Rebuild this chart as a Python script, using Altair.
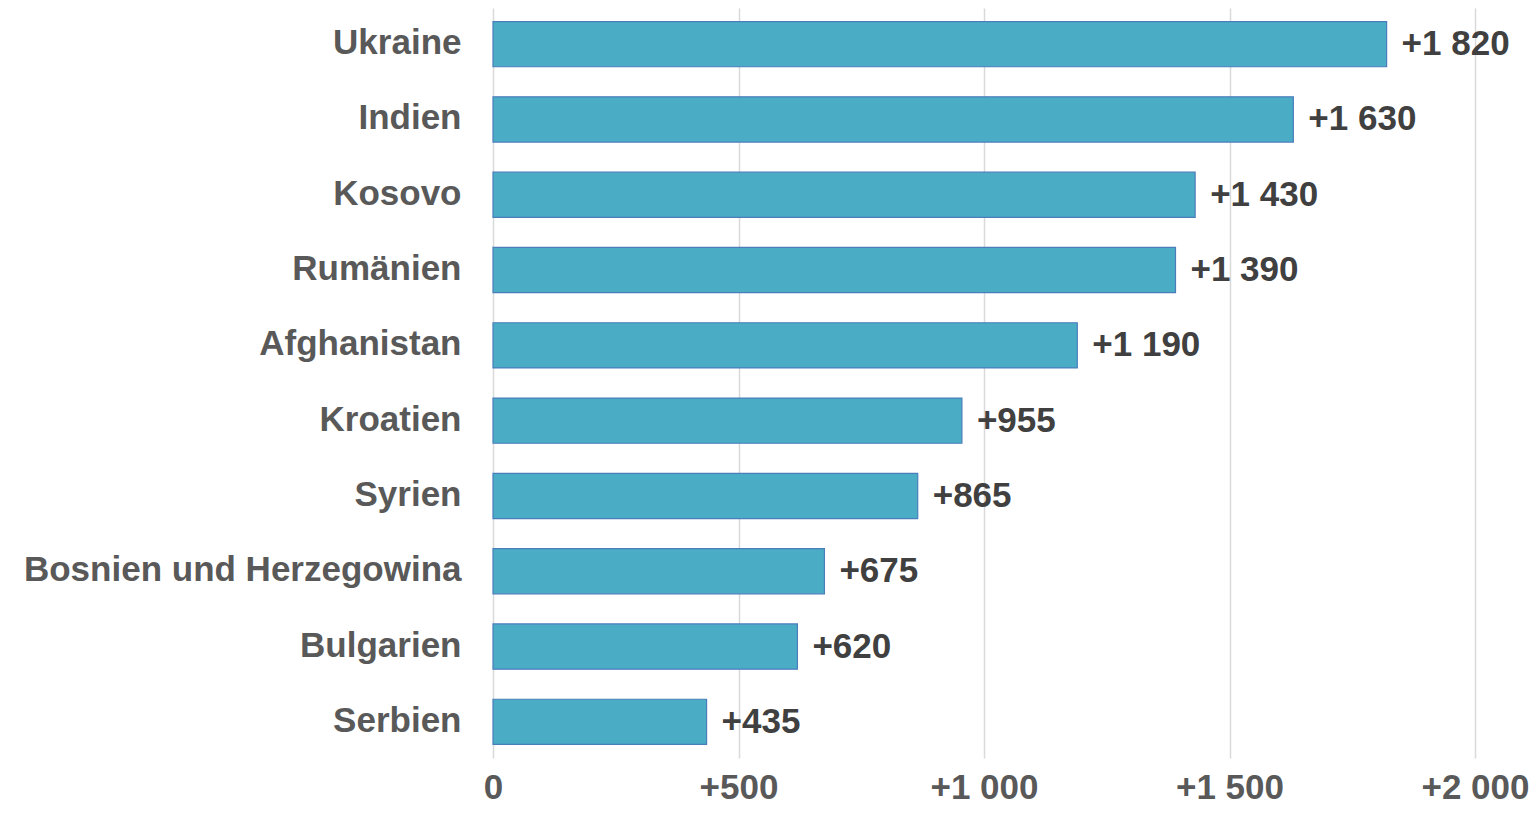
import altair as alt
import pandas as pd

countries = ["Ukraine", "Indien", "Kosovo", "Rumänien", "Afghanistan", "Kroatien",
             "Syrien", "Bosnien und Herzegowina", "Bulgarien", "Serbien"]
values = [1820, 1630, 1430, 1390, 1190, 955, 865, 675, 620, 435]
x_ticks = [0, 500, 1000, 1500, 2000]


def fmt(v):
    s = f"{v:,}".replace(",", " ")
    return "+" + s


df = pd.DataFrame({
    "country": countries,
    "value": values,
    "label": [fmt(v) for v in values],
})

FONT = "Liberation Sans"

y_enc = alt.Y("country:N", sort=countries, title=None,
              scale=alt.Scale(paddingInner=0.4, paddingOuter=0.18),
              axis=alt.Axis(domain=False, ticks=False, labelPadding=32, labelOffset=-1,
                            labelFont=FONT, labelFontSize=35, labelFontWeight="bold",
                            labelColor="#595959", labelLimit=600, grid=False))

x_enc = alt.X("value:Q", title=None,
              scale=alt.Scale(domain=[0, 2000], nice=False),
              axis=alt.Axis(values=x_ticks, domain=False, ticks=False, grid=True,
                            gridColor="#D9D9D9", gridWidth=1.5,
                            labelFont=FONT, labelFontSize=35, labelFontWeight="bold",
                            labelColor="#595959", labelPadding=12, labelFlush=False,
                            labelExpr="datum.value == 0 ? '0' : '+' + replace(format(datum.value, ','), ',', ' ')"))

bars = alt.Chart(df).mark_bar(color="#4BACC6", stroke="#4A7EBB", strokeWidth=1.2).encode(
    x=x_enc, y=y_enc)

text = alt.Chart(df).mark_text(align="left", baseline="middle", dx=15, dy=0,
                               font=FONT, fontSize=35, fontWeight="bold",
                               color="#404040").encode(
    x=alt.X("value:Q"), y=alt.Y("country:N", sort=countries), text="label:N")

chart = (bars + text).properties(
    width=982, height=750,
    background="white",
    autosize=alt.AutoSizeParams(type="none"),
    padding={"left": 485, "top": 0, "right": 56, "bottom": 48},
).configure_view(stroke=None)

chart.save("out.html", embed_options={"renderer": "svg", "actions": False})
